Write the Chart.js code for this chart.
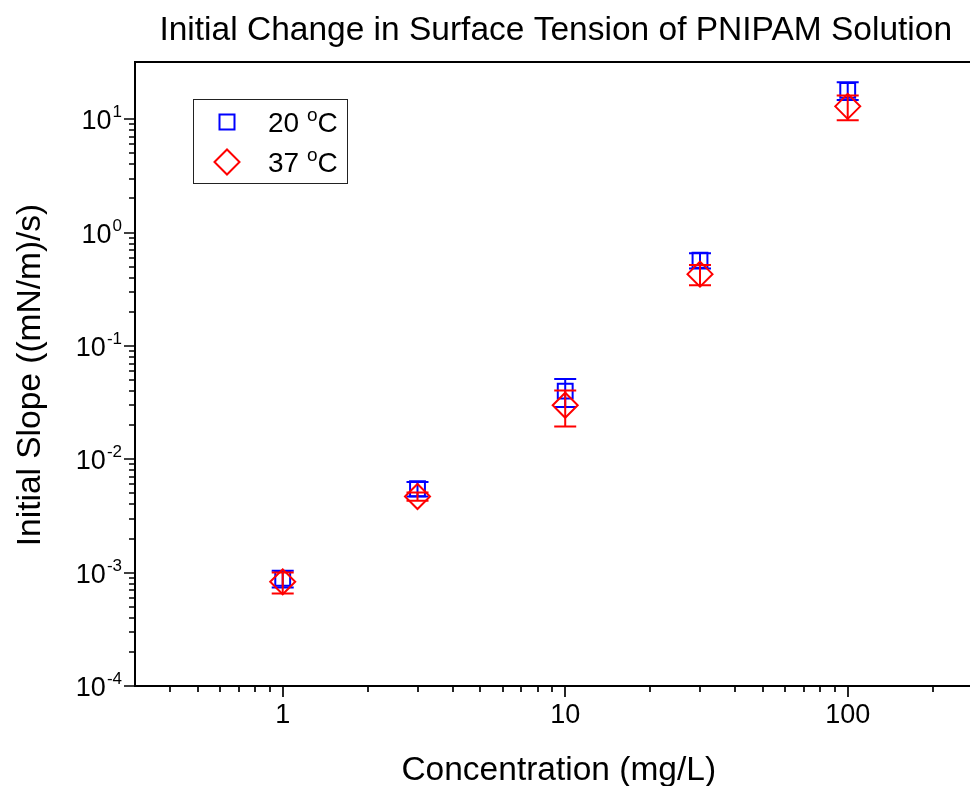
<!DOCTYPE html>
<html>
<head>
<meta charset="utf-8">
<script src="https://cdn.jsdelivr.net/npm/chart.js@4.4.0/dist/chart.umd.min.js"></script>
<style>
  html, body { margin: 0; padding: 0; background: #fff; overflow: hidden; }
  #wrap { width: 970px; height: 786px; overflow: hidden; }
</style>
</head>
<body>
<div id="wrap"><canvas id="chart" width="997" height="786"></canvas></div>
<script>
// data
const concentrations = [1, 3, 10, 30, 100];          // mg/L
const slope20 = [0.00089, 0.0055, 0.040, 0.57, 18];   // (mN/m)/s at 20 oC
const err20   = [0.00015, 0.0008, 0.011, 0.087, 3.2];
const slope37 = [0.00083, 0.0047, 0.030, 0.43, 13];   // (mN/m)/s at 37 oC
const err37   = [0.000175, 0.0004, 0.0105, 0.087, 3.2];

const xMajorTicks = [1, 10, 100];
const xMinorTicks = [0.4, 0.5, 0.6, 0.7, 0.8, 0.9, 2, 3, 4, 5, 6, 7, 8, 9,
                     20, 30, 40, 50, 60, 70, 80, 90, 200];
const yMajorTicks = [1e-4, 1e-3, 1e-2, 1e-1, 1, 10];
const yExponents  = ['-4', '-3', '-2', '-1', '0', '1'];
const legendNames = ['20 ', '37 '];

const FONT = '"Liberation Sans", Arial, sans-serif';

function pts(ys) {
  return concentrations.map((c, i) => ({ x: c, y: ys[i] }));
}

const decor = {
  id: 'decor',
  // error bars go down right before their own markers
  beforeDatasetDraw(chart, args) {
    const ds = chart.data.datasets[args.index];
    const xs = chart.scales.x, ys = chart.scales.y;
    const ctx = chart.ctx;
    ctx.save();
    ctx.strokeStyle = ds.borderColor;
    ctx.lineWidth = 2;
    ds.data.forEach((p, i) => {
      const px = xs.getPixelForValue(p.x);
      const t = ys.getPixelForValue(p.y + ds.errors[i]);
      const b = ys.getPixelForValue(p.y - ds.errors[i]);
      ctx.beginPath();
      ctx.moveTo(px, t); ctx.lineTo(px, b);
      ctx.moveTo(px - 11, t); ctx.lineTo(px + 11, t);
      ctx.moveTo(px - 11, b); ctx.lineTo(px + 11, b);
      ctx.stroke();
    });
    ctx.restore();
  },
  afterDraw(chart) {
    const ctx = chart.ctx;
    const a = chart.chartArea;
    const xs = chart.scales.x, ys = chart.scales.y;
    ctx.save();
    ctx.strokeStyle = '#000';
    ctx.fillStyle = '#000';

    // top and right frame
    ctx.lineWidth = 2;
    ctx.beginPath();
    ctx.moveTo(a.left - 1, a.top); ctx.lineTo(a.right, a.top); ctx.lineTo(a.right, a.bottom);
    ctx.stroke();

    // x ticks
    ctx.lineWidth = 1.7;
    ctx.beginPath();
    xMinorTicks.forEach(v => {
      const px = Math.round(xs.getPixelForValue(v));
      ctx.moveTo(px, a.bottom); ctx.lineTo(px, a.bottom + 6);
    });
    xMajorTicks.forEach(v => {
      const px = Math.round(xs.getPixelForValue(v));
      ctx.moveTo(px, a.bottom); ctx.lineTo(px, a.bottom + 11);
    });
    // y ticks
    yMajorTicks.forEach(v => {
      const py = Math.round(ys.getPixelForValue(v));
      ctx.moveTo(a.left, py); ctx.lineTo(a.left - 11, py);
      if (v < 10) {
        for (let k = 2; k <= 9; k++) {
          const my = Math.round(ys.getPixelForValue(v * k));
          if (my < a.top) break;
          ctx.moveTo(a.left, my); ctx.lineTo(a.left - 6, my);
        }
      }
    });
    ctx.stroke();

    // x tick labels
    ctx.font = '27px ' + FONT;
    ctx.textAlign = 'center';
    ctx.textBaseline = 'alphabetic';
    xMajorTicks.forEach(v => {
      ctx.fillText(String(v), xs.getPixelForValue(v), a.bottom + 37);
    });

    // y tick labels: 10 with superscript exponent
    yMajorTicks.forEach((v, i) => {
      const py = ys.getPixelForValue(v);
      ctx.font = '17px ' + FONT;
      const ew = ctx.measureText(yExponents[i]).width;
      const right = a.left - 13;
      ctx.textAlign = 'left';
      ctx.fillText(yExponents[i], right - ew, py - 2);
      ctx.font = '27px ' + FONT;
      ctx.textAlign = 'right';
      ctx.fillText('10', right - ew - 1, py + 10);
    });

    // titles, centred on the plot box as in the reference
    ctx.textAlign = 'center';
    ctx.font = '33.5px ' + FONT;
    const cx = (a.left + a.right) / 2;
    ctx.fillText('Initial Change in Surface Tension of PNIPAM Solution', cx - 3, 40);
    ctx.fillText('Concentration (mg/L)', cx, 780);
    ctx.save();
    ctx.translate(40, (a.top + a.bottom) / 2 + 1);
    ctx.rotate(-Math.PI / 2);
    ctx.fillText('Initial Slope ((mN/m)/s)', 0, 0);
    ctx.restore();

    // legend box
    ctx.lineWidth = 1;
    ctx.strokeStyle = '#222';
    ctx.strokeRect(193.5, 99.5, 154, 84);
    const rows = [122, 162];
    chart.data.datasets.forEach((ds, i) => {
      const y = rows[i];
      ctx.strokeStyle = ds.borderColor;
      ctx.lineWidth = 2;
      ctx.beginPath();
      if (ds.pointStyle === 'rect') {
        ctx.rect(227 - 7.5, y - 7.5, 15, 15);
      } else {
        ctx.moveTo(227 - 12.5, y); ctx.lineTo(227, y - 12.5);
        ctx.lineTo(227 + 12.5, y); ctx.lineTo(227, y + 12.5);
        ctx.closePath();
      }
      ctx.stroke();
      ctx.textAlign = 'left';
      ctx.font = '28px ' + FONT;
      let x = 268;
      ctx.fillText(legendNames[i], x, y + 10);
      x += ctx.measureText(legendNames[i]).width;
      ctx.font = '19px ' + FONT;
      ctx.fillText('o', x, y - 1);
      x += ctx.measureText('o').width;
      ctx.font = '28px ' + FONT;
      ctx.fillText('C', x, y + 10);
    });
    ctx.restore();
  }
};

new Chart(document.getElementById('chart'), {
  type: 'scatter',
  data: {
    datasets: [
      {
        label: '20 °C',
        data: pts(slope20),
        errors: err20,
        pointStyle: 'rect',
        pointRadius: 10.5,
        pointHoverRadius: 10.5,
        borderColor: '#0000ff',
        backgroundColor: 'rgba(0,0,0,0)',
        pointBorderWidth: 2,
        order: 1
      },
      {
        label: '37 °C',
        data: pts(slope37),
        errors: err37,
        pointStyle: 'rectRot',
        pointRadius: 12.5,
        pointHoverRadius: 12.5,
        borderColor: '#ff0000',
        backgroundColor: 'rgba(0,0,0,0)',
        pointBorderWidth: 2,
        order: 0
      }
    ]
  },
  options: {
    responsive: false,
    animation: false,
    events: [],
    layout: { padding: { top: 62, right: 0, left: 0, bottom: 0 } },
    plugins: {
      legend: { display: false },
      title: { display: false },
      tooltip: { enabled: false }
    },
    scales: {
      x: {
        type: 'logarithmic',
        min: 0.3,
        max: 300,
        grid: { display: false },
        border: { display: true, color: '#000', width: 2 },
        ticks: { display: false },
        afterFit(s) { s.height = 100; }
      },
      y: {
        type: 'logarithmic',
        min: 1e-4,
        max: 32,
        grid: { display: false },
        border: { display: true, color: '#000', width: 2 },
        ticks: { display: false },
        afterFit(s) { s.width = 135; }
      }
    }
  },
  plugins: [decor]
});
</script>
</body>
</html>
